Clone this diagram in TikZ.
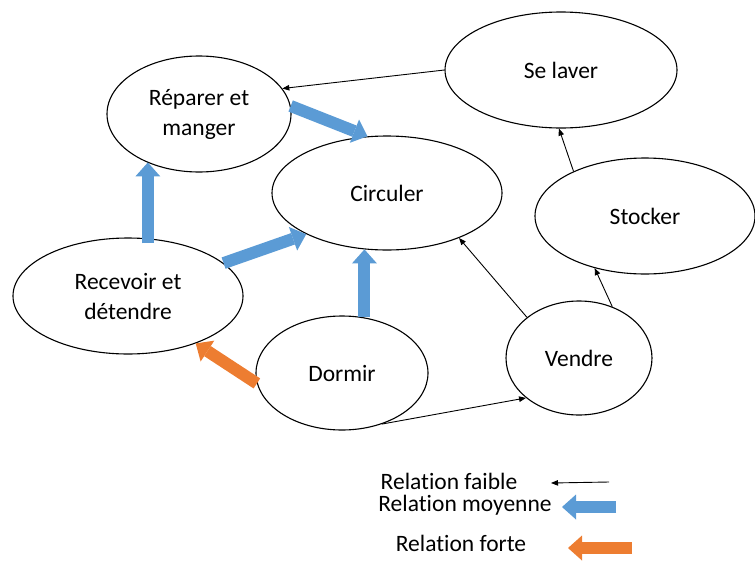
\documentclass[tikz,border=0pt]{standalone}
\usepackage{fontspec}
\setmainfont{Carlito}[Ligatures=NoCommon]
\usetikzlibrary{arrows.meta, shapes.geometric}
\definecolor{relblue}{HTML}{5B9BD5}
\definecolor{relorange}{HTML}{ED7D31}

\begin{document}
\begin{tikzpicture}[
      x=1pt, y=-1pt,
      every node/.style={font=\fontsize{23.5}{30}\selectfont},
      act/.style 2 args={draw, ellipse, line width=1.1pt, inner sep=0pt,
                         minimum width=#1, minimum height=#2, align=center},
      faible/.style={-{Triangle[length=7pt, width=5.5pt]}, line width=0.9pt},
      moyen/.style={-{Triangle[length=14pt, width=25pt, line width=0pt]},
                    line width=12pt, draw=relblue},
      fort/.style={-{Triangle[length=14pt, width=25pt, line width=0pt]},
                   line width=12pt, draw=relorange},
    ]
    \useasboundingbox (0,0) rectangle (755,565);

    \node[act={184pt}{116pt}] (rep) at (199,114) {Réparer et\\manger};
    \node[act={232pt}{116pt}] (sel) at (561,70)  {Se laver};
    \node[act={230pt}{114pt}] (cir) at (387,193) {Circuler};
    \node[act={220pt}{116pt}] (sto) at (645,216) {Stocker};
    \node[act={230pt}{116pt}] (rec) at (128,296) {Recevoir et\\détendre};
    \node[act={172pt}{114pt}] (dor) at (342,373) {Dormir};
    \node[act={146pt}{114pt}] (ven) at (579,358) {Vendre};

    \draw[faible] (sel.west) -- (rep.17);
    \draw[moyen] (rep.5) -- (cir.109);
    \draw[moyen, shorten <=-5pt] (rec.71) -- (rec.71 |- rep.223);
    \draw[moyen] (rec.19) -- (cir.207);
    \draw[moyen] (dor.68) -- (dor.68 |- cir.248);
    \draw[fort] (dor.187) -- (rec.325);
    \draw[faible] (ven.142) -- (cir.328);
    \draw[faible] (dor.308) -- (ven.217);
    \draw[faible] (ven.57) -- (sto.226);
    \draw[faible] (sto.148) -- (sel.268);

    % legende
    \node (lfaible) at (449,481) {Relation faible};
    \node (lmoyen)  at (465,505) {Relation moyenne};
    \node (lfort)   at (461,543) {Relation forte};
    \coordinate (fa1) at (609,482);
    \coordinate (fa2) at (551,483);
    \coordinate (mo1) at (616,507);
    \coordinate (mo2) at (562,507);
    \coordinate (fo1) at (632,548);
    \coordinate (fo2) at (568,548);
    \draw[faible] (fa1) -- (fa2);
    \draw[moyen] (mo1) -- (mo2);
    \draw[fort] (fo1) -- (fo2);
  \end{tikzpicture}
\end{document}
